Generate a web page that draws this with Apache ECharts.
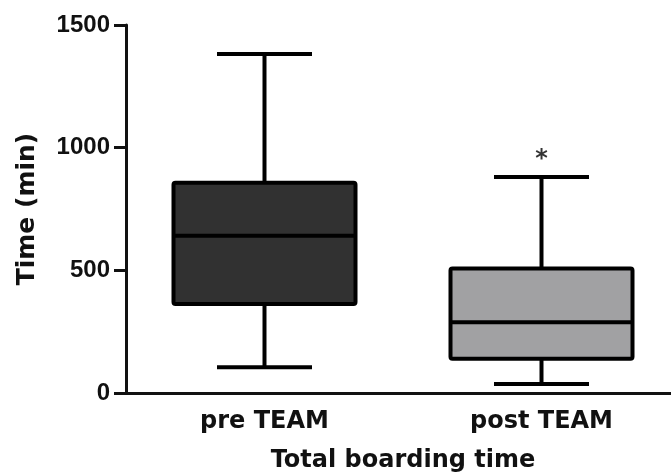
<!DOCTYPE html>
<html><head><meta charset="utf-8">
<script src="https://cdn.jsdelivr.net/npm/echarts@6/dist/echarts.min.js"></script>
<style>html,body{margin:0;padding:0;background:#fff}#c{width:671px;height:476px}</style>
</head><body><div id="c"></div>
<script>
const categories = ['pre TEAM', 'post TEAM'];
const whiskerLow = [105, 37];
const q1 = [363, 140];
const median = [641, 288];
const q3 = [857, 507];
const whiskerHigh = [1382, 880];
const boxColors = ['#313131', '#a1a1a3'];
const sigLabel = ['', '*'];
const sigValue = [null, 977];
const yTicks = [0, 500, 1000, 1500];

const FONT = '"DejaVu Sans", sans-serif';
const NUMFONT = '"Liberation Sans", Arial, sans-serif';
const chart = echarts.init(document.getElementById('c'));
const boxData = categories.map((c, i) => [i, whiskerLow[i], q1[i], median[i], q3[i], whiskerHigh[i]]);
const sigData = categories.map((c, i) => sigValue[i] == null ? null : { value: [i, sigValue[i]], label: sigLabel[i] }).filter(Boolean);

chart.setOption({
  animation: false,
  backgroundColor: '#ffffff',
  grid: { left: 126, top: 25, bottom: 83, width: 554, outerBoundsMode: 'none', containLabel: false },
  xAxis: {
    type: 'category', data: categories, boundaryGap: true,
    axisLine: { lineStyle: { color: '#111', width: 3 } },
    axisTick: { alignWithLabel: true, length: 10, lineStyle: { color: '#111', width: 3 } },
    axisLabel: { color: '#111', fontFamily: FONT, fontWeight: 'bold', fontSize: 24, margin: 17 },
    name: 'Total boarding time', nameLocation: 'middle', nameGap: 56,
    nameTextStyle: { color: '#111', fontFamily: FONT, fontWeight: 'bold', fontSize: 24 }
  },
  yAxis: {
    type: 'value', min: 0, max: 1500, interval: 500,
    splitLine: { show: false },
    axisLine: { show: true, lineStyle: { color: '#111', width: 3 } },
    axisTick: { show: true, length: 12, lineStyle: { color: '#111', width: 3 } },
    axisLabel: { color: '#111', fontFamily: NUMFONT, fontWeight: 'bold', fontSize: 24, margin: 16,
      formatter: v => yTicks.includes(v) ? String(v) : '' },
    name: 'Time (min)', nameLocation: 'middle', nameGap: 86,
    nameTextStyle: { color: '#111', fontFamily: FONT, fontWeight: 'bold', fontSize: 25 }
  },
  series: [{
    type: 'custom',
    data: boxData,
    encode: { x: 0, y: [1, 2, 3, 4, 5] },
    renderItem: function (params, api) {
      const i = api.value(0);
      const pLow = api.coord([i, api.value(1)]);
      const pQ1 = api.coord([i, api.value(2)]);
      const pMed = api.coord([i, api.value(3)]);
      const pQ3 = api.coord([i, api.value(4)]);
      const pHigh = api.coord([i, api.value(5)]);
      const cx = pMed[0];
      const bw = 182, cw = 95;
      const ls = { stroke: '#000', lineWidth: 4 };
      return {
        type: 'group',
        children: [
          { type: 'line', shape: { x1: cx, y1: pQ3[1], x2: cx, y2: pHigh[1] }, style: ls },
          { type: 'line', shape: { x1: cx, y1: pLow[1], x2: cx, y2: pQ1[1] }, style: ls },
          { type: 'line', shape: { x1: cx - cw / 2, y1: pHigh[1], x2: cx + cw / 2, y2: pHigh[1] }, style: ls },
          { type: 'line', shape: { x1: cx - cw / 2, y1: pLow[1], x2: cx + cw / 2, y2: pLow[1] }, style: ls },
          { type: 'rect', shape: { x: cx - bw / 2, y: pQ3[1], width: bw, height: pQ1[1] - pQ3[1], r: 2 },
            style: { fill: boxColors[i], stroke: '#000', lineWidth: 4 } },
          { type: 'line', shape: { x1: cx - bw / 2, y1: pMed[1], x2: cx + bw / 2, y2: pMed[1] }, style: ls }
        ]
      };
    }
  }, {
    type: 'scatter',
    data: sigData,
    symbolSize: 0,
    label: { show: true, position: 'inside', formatter: p => p.data.label,
      color: '#000', fontFamily: FONT, fontWeight: 'bold', fontSize: 24, offset: [0, 6] }
  }]
});
</script></body></html>
